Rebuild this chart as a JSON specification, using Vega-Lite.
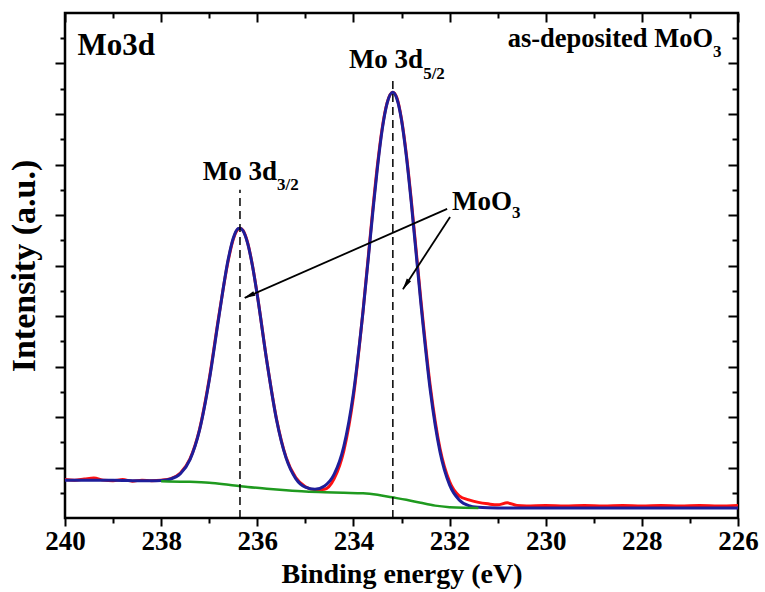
{
  "$schema": "https://vega.github.io/schema/vega-lite/v6.json",
  "width": 673,
  "height": 505,
  "autosize": {"type": "none"},
  "padding": {"left": 65, "top": 13, "right": 27, "bottom": 74},
  "background": "white",
  "config": {"view": {"stroke": "black", "strokeWidth": 2.5}, "font": "Liberation Serif"},
  "datasets": {
    "red": [
      {"x": 240, "y": 0.76}, {"x": 239.8, "y": 0.75}, {"x": 239.6, "y": 0.77}, {"x": 239.4, "y": 0.79}, {"x": 239.2, "y": 0.75},
      {"x": 239.0, "y": 0.74}, {"x": 238.8, "y": 0.76}, {"x": 238.6, "y": 0.73}, {"x": 238.4, "y": 0.75}, {"x": 238.2, "y": 0.74},
      {"x": 238.0, "y": 0.75}, {"x": 237.8, "y": 0.78}, {"x": 237.6, "y": 0.89}, {"x": 237.4, "y": 1.17}, {"x": 237.2, "y": 1.76},
      {"x": 237.0, "y": 2.75}, {"x": 236.8, "y": 4.0}, {"x": 236.6, "y": 5.12}, {"x": 236.5, "y": 5.52}, {"x": 236.4, "y": 5.72},
      {"x": 236.36, "y": 5.74}, {"x": 236.3, "y": 5.7}, {"x": 236.2, "y": 5.45}, {"x": 236.1, "y": 5.0}, {"x": 236.0, "y": 4.42},
      {"x": 235.8, "y": 3.1}, {"x": 235.6, "y": 1.96}, {"x": 235.4, "y": 1.2}, {"x": 235.2, "y": 0.8}, {"x": 235.0, "y": 0.62},
      {"x": 234.8, "y": 0.56}, {"x": 234.6, "y": 0.57}, {"x": 234.4, "y": 0.78}, {"x": 234.2, "y": 1.33}, {"x": 234.0, "y": 2.4},
      {"x": 233.8, "y": 4.1}, {"x": 233.6, "y": 6.08}, {"x": 233.5, "y": 6.99}, {"x": 233.4, "y": 7.73}, {"x": 233.3, "y": 8.22},
      {"x": 233.18, "y": 8.43}, {"x": 233.1, "y": 8.33}, {"x": 233.0, "y": 7.9}, {"x": 232.9, "y": 7.21}, {"x": 232.8, "y": 6.33},
      {"x": 232.6, "y": 4.35}, {"x": 232.4, "y": 2.6}, {"x": 232.2, "y": 1.38}, {"x": 232.0, "y": 0.72}, {"x": 231.8, "y": 0.44},
      {"x": 231.6, "y": 0.36}, {"x": 231.4, "y": 0.31}, {"x": 231.2, "y": 0.28}, {"x": 231.0, "y": 0.26}, {"x": 230.8, "y": 0.3},
      {"x": 230.6, "y": 0.25}, {"x": 230.4, "y": 0.24}, {"x": 230.0, "y": 0.25}, {"x": 229.6, "y": 0.24}, {"x": 229.2, "y": 0.25},
      {"x": 228.8, "y": 0.24}, {"x": 228.4, "y": 0.25}, {"x": 228.0, "y": 0.24}, {"x": 227.6, "y": 0.25}, {"x": 227.2, "y": 0.24},
      {"x": 226.8, "y": 0.25}, {"x": 226.4, "y": 0.24}, {"x": 226.0, "y": 0.25}
    ],
    "blue": [
      {"x": 240, "y": 0.75}, {"x": 239.5, "y": 0.75}, {"x": 239, "y": 0.75}, {"x": 238.5, "y": 0.74}, {"x": 238.2, "y": 0.737},
      {"x": 238, "y": 0.742}, {"x": 237.8, "y": 0.772}, {"x": 237.6, "y": 0.877}, {"x": 237.4, "y": 1.157}, {"x": 237.2, "y": 1.745},
      {"x": 237, "y": 2.722}, {"x": 236.8, "y": 3.977}, {"x": 236.6, "y": 5.145}, {"x": 236.5, "y": 5.538}, {"x": 236.4, "y": 5.73},
      {"x": 236.36, "y": 5.74}, {"x": 236.3, "y": 5.694}, {"x": 236.2, "y": 5.437}, {"x": 236.1, "y": 4.99}, {"x": 236, "y": 4.411},
      {"x": 235.8, "y": 3.093}, {"x": 235.6, "y": 1.947}, {"x": 235.4, "y": 1.185}, {"x": 235.2, "y": 0.78}, {"x": 235, "y": 0.611},
      {"x": 234.8, "y": 0.57}, {"x": 234.6, "y": 0.635}, {"x": 234.4, "y": 0.867}, {"x": 234.2, "y": 1.419}, {"x": 234, "y": 2.473},
      {"x": 233.8, "y": 4.092}, {"x": 233.6, "y": 6.025}, {"x": 233.5, "y": 6.94}, {"x": 233.4, "y": 7.7}, {"x": 233.3, "y": 8.21},
      {"x": 233.18, "y": 8.43}, {"x": 233.1, "y": 8.31}, {"x": 233, "y": 7.88}, {"x": 232.9, "y": 7.17}, {"x": 232.8, "y": 6.28},
      {"x": 232.6, "y": 4.28}, {"x": 232.4, "y": 2.52}, {"x": 232.2, "y": 1.315}, {"x": 232, "y": 0.656}, {"x": 231.8, "y": 0.357},
      {"x": 231.6, "y": 0.244}, {"x": 231.4, "y": 0.211}, {"x": 231.2, "y": 0.202}, {"x": 231, "y": 0.2}, {"x": 230, "y": 0.2},
      {"x": 228, "y": 0.2}, {"x": 226, "y": 0.2}
    ],
    "green": [
      {"x": 238, "y": 0.73}, {"x": 237.5, "y": 0.72}, {"x": 237, "y": 0.7}, {"x": 236.6, "y": 0.66}, {"x": 236.2, "y": 0.615},
      {"x": 235.8, "y": 0.58}, {"x": 235.4, "y": 0.55}, {"x": 235, "y": 0.525}, {"x": 234.6, "y": 0.51}, {"x": 234.2, "y": 0.5},
      {"x": 233.8, "y": 0.49}, {"x": 233.5, "y": 0.46}, {"x": 233.2, "y": 0.41}, {"x": 232.9, "y": 0.36}, {"x": 232.6, "y": 0.3},
      {"x": 232.3, "y": 0.245}, {"x": 232, "y": 0.215}, {"x": 231.7, "y": 0.203}, {"x": 231.4, "y": 0.2}
    ],
    "vlines": [
      {"x": 236.36, "y": 0, "y2": 6.5},
      {"x": 233.18, "y": 0, "y2": 8.73}
    ],
    "arrows": [
      {"id": 1, "x": 232.05, "y": 6.12, "x2": 236.26, "y2": 4.36, "hx": 236.17, "hy": 4.4},
      {"id": 2, "x": 231.99, "y": 5.96, "x2": 232.97, "y2": 4.53, "hx": 232.91, "hy": 4.62}
    ],
    "labels": [
      {"group": "big", "text": "Mo3d", "x": 238.13, "y": 9.17},
      {"group": "peak", "text": "Mo 3d", "x": 232.55, "y": 8.91},
      {"group": "peak", "text": "Mo 3d", "x": 235.59, "y": 6.69},
      {"group": "peak", "text": "MoO", "x": 230.7, "y": 6.1},
      {"group": "corner", "text": "as-deposited MoO", "x": 226.52, "y": 9.33}
    ],
    "subs": [
      {"group": "peak", "text": "5/2", "x": 232.55, "y": 8.69},
      {"group": "peak", "text": "3/2", "x": 235.59, "y": 6.5},
      {"group": "peak", "text": "3", "x": 230.7, "y": 5.94},
      {"group": "corner", "text": "3", "x": 226.52, "y": 9.13}
    ]
  },
  "layer": [
    {
      "data": {"name": "red"},
      "mark": {"type": "line", "color": "#ff1010", "strokeWidth": 3, "interpolate": "monotone"},
      "encoding": {
        "x": {"field": "x", "type": "quantitative", "scale": {"domain": [226, 240], "reverse": true, "nice": false, "zero": false},
          "axis": {"orient": "bottom", "values": [240, 238, 236, 234, 232, 230, 228, 226], "tickSize": 8, "tickWidth": 2, "tickColor": "black", "domain": false, "grid": false,
            "labelFont": "Liberation Serif", "labelFontWeight": "bold", "labelFontSize": 27, "labelColor": "black", "labelPadding": 2, "labelFlush": false, "labelOverlap": false, "format": "d",
            "title": "Binding energy (eV)", "titleFont": "Liberation Serif", "titleFontSize": 28, "titleFontWeight": "bold", "titleColor": "black", "titlePadding": 6}},
        "y": {"field": "y", "type": "quantitative", "scale": {"domain": [0, 10], "nice": false, "zero": false},
          "axis": {"orient": "left", "values": [1, 2, 3, 4, 5, 6, 7, 8, 9], "tickSize": 10, "tickWidth": 2, "tickColor": "black", "domain": false, "grid": false, "labels": false,
            "title": "Intensity (a.u.)", "titleFont": "Liberation Serif", "titleFontSize": 34, "titleFontWeight": "bold", "titleColor": "black", "titlePadding": 13}}
      }
    },
    {
      "data": {"name": "blue"},
      "mark": {"type": "line", "color": "#1e1e9a", "strokeWidth": 3, "interpolate": "monotone"},
      "encoding": {
        "x": {"field": "x", "type": "quantitative", "scale": {"domain": [226, 240], "reverse": true, "nice": false, "zero": false},
          "axis": {"orient": "bottom", "values": [239, 237, 235, 233, 231, 229, 227], "tickSize": 5, "tickWidth": 2, "tickColor": "black", "domain": false, "grid": false, "labels": false, "title": null}},
        "y": {"field": "y", "type": "quantitative", "scale": {"domain": [0, 10], "nice": false, "zero": false},
          "axis": {"orient": "left", "values": [0.5, 1.5, 2.5, 3.5, 4.5, 5.5, 6.5, 7.5, 8.5, 9.5], "tickSize": 5, "tickWidth": 2, "tickColor": "black", "domain": false, "grid": false, "labels": false, "title": null}}
      }
    },
    {
      "data": {"name": "green"},
      "mark": {"type": "line", "color": "#1f9a1f", "strokeWidth": 2.5, "interpolate": "monotone"},
      "encoding": {
        "x": {"field": "x", "type": "quantitative", "scale": {"domain": [226, 240], "reverse": true, "nice": false, "zero": false},
          "axis": {"orient": "top", "values": [240, 238, 236, 234, 232, 230, 228, 226], "tickSize": -9, "tickWidth": 2, "tickColor": "black", "domain": false, "grid": false, "labels": false, "title": null}},
        "y": {"field": "y", "type": "quantitative", "scale": {"domain": [0, 10], "nice": false, "zero": false},
          "axis": {"orient": "right", "values": [1, 2, 3, 4, 5, 6, 7, 8, 9], "tickSize": -10, "tickWidth": 2, "tickColor": "black", "domain": false, "grid": false, "labels": false, "title": null}}
      }
    },
    {
      "data": {"name": "vlines"},
      "mark": {"type": "rule", "color": "black", "strokeWidth": 1.5, "strokeDash": [8, 5]},
      "encoding": {
        "x": {"field": "x", "type": "quantitative", "scale": {"domain": [226, 240], "reverse": true, "nice": false, "zero": false},
          "axis": {"orient": "top", "values": [239, 237, 235, 233, 231, 229, 227], "tickSize": -5, "tickWidth": 2, "tickColor": "black", "domain": false, "grid": false, "labels": false, "title": null}},
        "y": {"field": "y", "type": "quantitative", "scale": {"domain": [0, 10], "nice": false, "zero": false},
          "axis": {"orient": "right", "values": [0.5, 1.5, 2.5, 3.5, 4.5, 5.5, 6.5, 7.5, 8.5, 9.5], "tickSize": -6, "tickWidth": 2, "tickColor": "black", "domain": false, "grid": false, "labels": false, "title": null}},
        "y2": {"field": "y2"}
      }
    },
    {
      "data": {"name": "arrows"},
      "mark": {"type": "rule", "color": "black", "strokeWidth": 1.8},
      "encoding": {
        "x": {"field": "x", "type": "quantitative", "axis": null},
        "y": {"field": "y", "type": "quantitative", "axis": null},
        "x2": {"field": "x2"},
        "y2": {"field": "y2"}
      }
    },
    {
      "data": {"name": "arrows"},
      "transform": [{"filter": "datum.id == 1"}],
      "mark": {"type": "point", "shape": "M0,-1L0.45,1L-0.45,1Z", "filled": true, "color": "black", "opacity": 1, "size": 130, "angle": 246},
      "encoding": {
        "x": {"field": "hx", "type": "quantitative", "axis": null},
        "y": {"field": "hy", "type": "quantitative", "axis": null}
      }
    },
    {
      "data": {"name": "arrows"},
      "transform": [{"filter": "datum.id == 2"}],
      "mark": {"type": "point", "shape": "M0,-1L0.45,1L-0.45,1Z", "filled": true, "color": "black", "opacity": 1, "size": 130, "angle": 213},
      "encoding": {
        "x": {"field": "hx", "type": "quantitative", "axis": null},
        "y": {"field": "hy", "type": "quantitative", "axis": null}
      }
    },
    {
      "data": {"name": "labels"},
      "transform": [{"filter": "datum.group == 'big'"}],
      "mark": {"type": "text", "font": "Liberation Serif", "fontWeight": "bold", "fontSize": 31, "align": "right", "baseline": "alphabetic", "color": "black"},
      "encoding": {
        "x": {"field": "x", "type": "quantitative", "axis": null},
        "y": {"field": "y", "type": "quantitative", "axis": null},
        "text": {"field": "text"}
      }
    },
    {
      "data": {"name": "labels"},
      "transform": [{"filter": "datum.group == 'peak'"}],
      "mark": {"type": "text", "font": "Liberation Serif", "fontWeight": "bold", "fontSize": 27, "align": "right", "baseline": "alphabetic", "color": "black"},
      "encoding": {
        "x": {"field": "x", "type": "quantitative", "axis": null},
        "y": {"field": "y", "type": "quantitative", "axis": null},
        "text": {"field": "text"}
      }
    },
    {
      "data": {"name": "labels"},
      "transform": [{"filter": "datum.group == 'corner'"}],
      "mark": {"type": "text", "font": "Liberation Serif", "fontWeight": "bold", "fontSize": 26.5, "align": "right", "baseline": "alphabetic", "color": "black"},
      "encoding": {
        "x": {"field": "x", "type": "quantitative", "axis": null},
        "y": {"field": "y", "type": "quantitative", "axis": null},
        "text": {"field": "text"}
      }
    },
    {
      "data": {"name": "subs"},
      "mark": {"type": "text", "font": "Liberation Serif", "fontWeight": "bold", "fontSize": 17, "align": "left", "baseline": "alphabetic", "color": "black"},
      "encoding": {
        "x": {"field": "x", "type": "quantitative", "axis": null},
        "y": {"field": "y", "type": "quantitative", "axis": null},
        "text": {"field": "text"}
      }
    }
  ],
  "resolve": {"axis": {"x": "independent", "y": "independent"}}
}
